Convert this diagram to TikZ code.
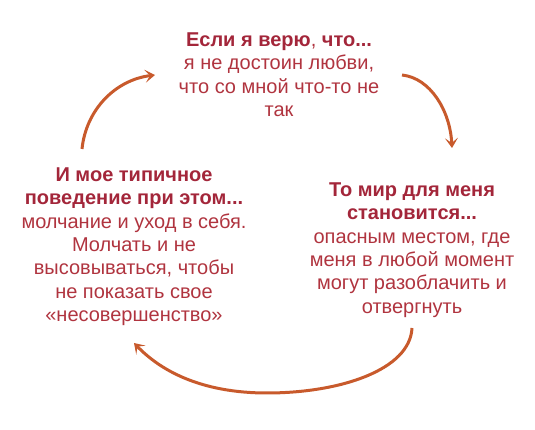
\documentclass[tikz,border=0pt]{standalone}
\usepackage{fontspec}
\setmainfont{Liberation Sans}
\usetikzlibrary{arrows.meta}
\definecolor{hd}{HTML}{A3263A}
\definecolor{tx}{HTML}{B0343F}
\definecolor{ar}{HTML}{C85A2C}
\newcommand\hdtext[1]{\textbf{\color{hd}#1}}
\begin{document}
\begin{tikzpicture}[x=1pt,y=1pt,
  blk/.style={align=center, inner sep=0pt, anchor=north, font=\fontsize{20}{23.3}\selectfont, text=tx},
  cyc/.style={draw=ar, line width=3pt, -{Stealth[length=10pt,width=13pt,inset=5pt]}}]
\useasboundingbox (0,0) rectangle (535,430);
\node[blk] (top) at (279,397.3) {\hdtext{Если я верю}, \hdtext{что...}\\ я не достоин любви,\\ что со мной что-то не\\ так};
\node[blk] (left) at (134,262.3) {\hdtext{И мое типичное}\\ \hdtext{поведение при этом...}\\ молчание и уход в себя.\\ Молчать и не\\ высовываться, чтобы\\ не показать свое\\ «несовершенство»};
\node[blk] (right) at (412,247.3) {\hdtext{То мир для меня}\\ \hdtext{становится...}\\ опасным местом, где\\ меня в любой момент\\ могут разоблачить и\\ отвергнуть};
\coordinate (a1s) at (82,281);
\coordinate (a1e) at (155,355);
\coordinate (a2s) at (402,355);
\coordinate (a2e) at (452,282);
\coordinate (a3s) at (412,102);
\coordinate (a3m) at (267,37);
\coordinate (a3e) at (134,87);
\draw[cyc] (a1s) .. controls (86,320) and (115,350) .. (a1e);
\draw[cyc] (a2s) .. controls (430,352) and (450,320) .. (a2e);
\draw[cyc] (a3s) .. controls (410,60) and (340,37) .. (a3m) .. controls (200,37) and (160,60) .. (a3e);
\end{tikzpicture}
\end{document}
